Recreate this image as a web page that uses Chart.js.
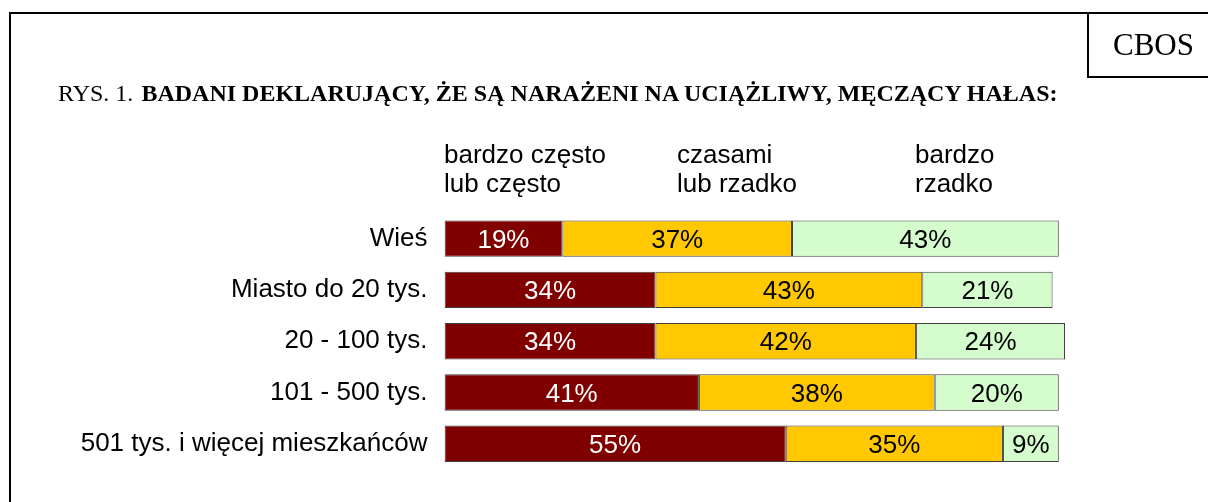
<!DOCTYPE html>
<html>
<head>
<meta charset="utf-8">
<script src="https://cdn.jsdelivr.net/npm/chart.js@4/dist/chart.umd.min.js"></script>
<style>
  html, body { margin: 0; padding: 0; background: #fff; }
  body { width: 1208px; height: 502px; position: relative; overflow: hidden; }
  .ln { position: absolute; background: #000; }
  #title { position: absolute; left: 58px; top: 79px; font-family: "Liberation Serif", "Times New Roman", serif; font-size: 24px; color: #000; white-space: nowrap; line-height: 28px; }
  #title b { font-weight: bold; margin-left: 8px; }
  #cbos { position: absolute; left: 1094px; top: 13px; width: 119px; height: 63px; font-family: "Liberation Serif", "Times New Roman", serif; font-size: 31px; color: #000; display: flex; align-items: center; justify-content: center; }
  canvas { position: absolute; left: 0; top: 0; }
</style>
</head>
<body>
<canvas id="c" width="1208" height="502"></canvas>
<div class="ln" style="left:9px; top:12px; width:2px; height:490px;"></div>
<div class="ln" style="left:9px; top:12px; width:1199px; height:2px;"></div>
<div class="ln" style="left:1087px; top:12px; width:2px; height:66px;"></div>
<div class="ln" style="left:1087px; top:76px; width:121px; height:2px;"></div>
<div id="cbos">CBOS</div>
<div id="title">RYS. 1.<b>BADANI DEKLARUJĄCY, ŻE SĄ NARAŻENI NA UCIĄŻLIWY, MĘCZĄCY HAŁAS:</b></div>
<script>
const categories = ['Wieś', 'Miasto do 20 tys.', '20 - 100 tys.', '101 - 500 tys.', '501 tys. i więcej mieszkańców'];
const seriesNames = [['bardzo często', 'lub często'], ['czasami', 'lub rzadko'], ['bardzo', 'rzadko']];
const oftenValues = [19, 34, 34, 41, 55];
const sometimesValues = [37, 43, 42, 38, 35];
const rarelyValues = [43, 21, 24, 20, 9];

const FONT = '"Liberation Sans", Arial, sans-serif';

const headerX = [444, 677, 915];
const headerBaselines = [163, 192];

const labelPlugin = {
  id: 'labels',
  afterDatasetsDraw(chart) {
    const ctx = chart.ctx;
    ctx.save();
    ctx.font = '26px ' + FONT;
    ctx.textAlign = 'center';
    ctx.textBaseline = 'middle';
    chart.data.datasets.forEach((ds, di) => {
      const meta = chart.getDatasetMeta(di);
      meta.data.forEach((bar, i) => {
        const v = ds.data[i];
        const cx = (bar.x + bar.base) / 2;
        ctx.fillStyle = di === 0 ? '#ffffff' : '#000000';
        ctx.fillText(v + '%', cx, bar.y + 2);
      });
    });
    // header labels (series names)
    ctx.textAlign = 'left';
    ctx.textBaseline = 'alphabetic';
    ctx.fillStyle = '#000';
    seriesNames.forEach((lines, si) => {
      lines.forEach((t, li) => ctx.fillText(t, headerX[si], headerBaselines[li]));
    });
    ctx.restore();
  }
};

new Chart(document.getElementById('c'), {
  type: 'bar',
  data: {
    labels: categories,
    datasets: [
      { label: seriesNames[0].join(' '), data: oftenValues, backgroundColor: '#800000' },
      { label: seriesNames[1].join(' '), data: sometimesValues, backgroundColor: '#FFC800' },
      { label: seriesNames[2].join(' '), data: rarelyValues, backgroundColor: '#D4FCCC' }
    ].map(d => Object.assign(d, { borderColor: '#404040', borderWidth: 1, borderSkipped: false, categoryPercentage: 1, barPercentage: 0.71 }))
  },
  options: {
    indexAxis: 'y',
    responsive: false,
    animation: false,
    devicePixelRatio: 1,
    layout: { padding: { left: 0, right: 143, top: 213, bottom: 22 } },
    plugins: { legend: { display: false }, tooltip: { enabled: false } },
    scales: {
      x: { stacked: true, min: 0, max: 100, display: false },
      y: {
        stacked: true,
        grid: { display: false, drawTicks: false },
        border: { display: false },
        ticks: { color: '#000', font: { family: FONT, size: 26 }, padding: 17 },
        afterFit(scale) { scale.width = 444.5; }
      }
    }
  },
  plugins: [labelPlugin]
});
</script>
</body>
</html>
